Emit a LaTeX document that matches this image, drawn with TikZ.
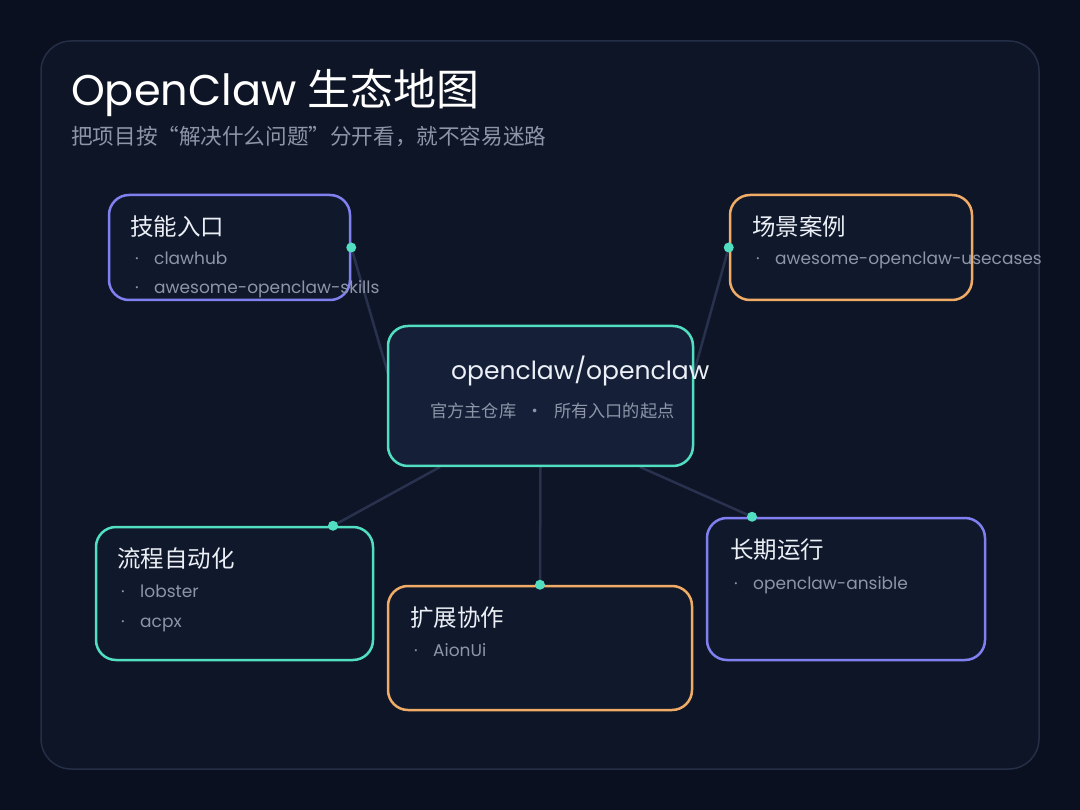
\documentclass[tikz,border=0pt]{standalone}
\usepackage{fontspec}
\setmainfont{Poppins}
\newfontfamily\cjk{Noto Sans CJK SC}
\usetikzlibrary{calc}
\definecolor{bgc}{RGB}{11,16,32}
\definecolor{panelfill}{RGB}{14,21,38}
\definecolor{panelline}{RGB}{36,46,70}
\definecolor{boxfill}{RGB}{16,25,44}
\definecolor{mainfill}{RGB}{21,32,56}
\definecolor{purp}{RGB}{128,128,240}
\definecolor{oran}{RGB}{240,172,102}
\definecolor{teal}{RGB}{82,222,192}
\definecolor{conn}{RGB}{40,50,78}
\definecolor{subtxt}{RGB}{140,150,168}
\definecolor{ttl}{RGB}{236,240,246}
\begin{document}
\begin{tikzpicture}[x=1pt,y=-1pt,
  box/.style={draw, line width=2.5pt, fill=boxfill, rounded corners=20pt, inner sep=0pt},
  boxtitle/.style={anchor=west, text=ttl, font=\cjk\fontsize{23.5}{27}\selectfont, inner sep=0pt},
  item/.style={anchor=base west, text=subtxt, font=\fontsize{17}{21}\selectfont, inner sep=0pt},
  link/.style={draw=conn, line width=2.5pt},
  dot/.style={circle, fill=teal, inner sep=0pt, minimum size=10pt}]
\useasboundingbox (0,0) rectangle (1080,810);
\fill[bgc] (0,0) rectangle (1080,810);
\draw[panelline, fill=panelfill, line width=1.5pt, rounded corners=30pt] (41,41) rectangle (1039,769);

% title
\node[anchor=base west, text=white, inner sep=0pt, font=\fontsize{43}{50}\selectfont] (title) at (71,106) {OpenClaw {\cjk 生态地图}};
\node[anchor=west, text=subtxt, inner sep=0pt, font=\cjk\fontsize{21.6}{25}\selectfont] (subtitle) at (71,137) {把项目按“解决什么问题”分开看，就不容易迷路};

% box shapes (positions)
\node[box, draw=purp, minimum width=241pt, minimum height=105pt] (skills) at (229.5,247.5) {};
\node[box, draw=oran, minimum width=242pt, minimum height=105pt] (cases) at (851,247.5) {};
\node[box, draw=teal, minimum width=277pt, minimum height=133pt] (flow) at (234.5,593.5) {};
\node[box, draw=oran, minimum width=304pt, minimum height=124pt] (ext) at (540,648) {};
\node[box, draw=purp, minimum width=278pt, minimum height=142pt] (long) at (846,589) {};

% connectors
\coordinate (mainW) at (389,377);
\coordinate (mainE) at (693,376);
\coordinate (mainS1) at (440,467);
\coordinate (mainS2) at (540.5,467);
\coordinate (mainS3) at (640,467);
\coordinate (dSkills) at (skills.east);
\coordinate (dCases) at (cases.west);
\coordinate (dFlow) at ($(flow.north)+(98.5,0)$);
\coordinate (dExt) at (ext.north);
\coordinate (dLong) at ($(long.north)+(-94,0)$);
\draw[link] (dSkills) -- (mainW);
\draw[link] (dCases) -- (mainE);
\draw[link] (mainS1) -- (dFlow);
\draw[link] (mainS2) -- (dExt);
\draw[link] (mainS3) -- (dLong);

% main node
\node[box, draw=teal, fill=mainfill, minimum width=305pt, minimum height=140pt] (main) at (540.5,396) {};
\node[anchor=base west, text=ttl, inner sep=0pt, font=\fontsize{25}{30}\selectfont] (mainT) at (451,380) {openclaw/openclaw};
\node[anchor=west, text=subtxt, inner sep=0pt, font=\cjk\fontsize{17.2}{20}\selectfont] (mainS) at (430,411) {官方主仓库\hspace{0.6em}·\hspace{0.6em}所有入口的起点};

% dots
\node[dot] at (dSkills) {};
\node[dot] at (dCases) {};
\node[dot] at (dFlow) {};
\node[dot] at (dExt) {};
\node[dot] at (dLong) {};

% skills
\node[boxtitle] (skillsT) at (130,227) {技能入口};
\node[item] (skillsB1) at (135,265) {·};
\node[item] (skillsI1) at (154,265) {clawhub};
\node[item] (skillsB2) at (135,294) {·};
\node[item] (skillsI2) at (154,294) {awesome-openclaw-skills};

% cases
\node[boxtitle] (casesT) at (752,227) {场景案例};
\node[item] (casesB1) at (756,265) {·};
\node[item] (casesI1) at (775,265) {awesome-openclaw-usecases};

% flow
\node[boxtitle] (flowT) at (117,559) {流程自动化};
\node[item] (flowB1) at (121,597) {·};
\node[item] (flowI1) at (140,597) {lobster};
\node[item] (flowB2) at (121,627) {·};
\node[item] (flowI2) at (140,627) {acpx};

% ext
\node[boxtitle] (extT) at (410,618) {扩展协作};
\node[item] (extB1) at (414,656) {·};
\node[item] (extI1) at (433,656) {AionUi};

% long
\node[boxtitle] (longT) at (730,550) {长期运行};
\node[item] (longB1) at (734,589) {·};
\node[item] (longI1) at (753,589) {openclaw-ansible};
\end{tikzpicture}
\end{document}
